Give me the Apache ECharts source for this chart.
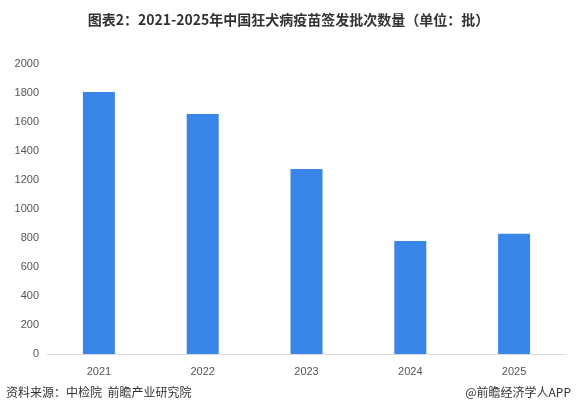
<!DOCTYPE html><html><head><meta charset="utf-8"><script src="https://cdn.jsdelivr.net/npm/echarts@6/dist/echarts.min.js"></script></head><body style="margin:0"><div id="c" style="width:577px;height:420px"></div><script>
const categories=['2021','2022','2023','2024','2025'];
const values=[1807,1655,1276,780,830];
const ch=echarts.init(document.getElementById('c'));
ch.setOption({
title:{text:'图表2：2021-2025年中国狂犬病疫苗签发批次数量（单位：批）',left:'center',top:8,textStyle:{fontSize:14,fontWeight:'bold',color:'#333',fontFamily:'Noto Sans CJK SC'}},
grid:{left:47,right:11,top:64,bottom:66},
xAxis:{type:'category',data:categories,axisTick:{show:false},axisLine:{lineStyle:{color:'#d9d9d9'}},axisLabel:{color:'#555',fontSize:11,margin:12}},
yAxis:{type:'value',min:0,max:2000,interval:200,splitLine:{show:false},axisLabel:{color:'#555',fontSize:11,formatter:v=>String(v)}},
series:[{type:'bar',data:values,barWidth:32,itemStyle:{color:'#3a86e8'}}],
graphic:[{type:'text',left:6,top:386,style:{text:'资料来源：中检院  前瞻产业研究院',fontSize:12,fill:'#333',fontFamily:'Noto Sans CJK SC'}},
{type:'text',right:6,top:386,style:{text:'@前瞻经济学人APP',fontSize:12,fill:'#333',fontFamily:'Noto Sans CJK SC'}}]
});
</script></body></html>
